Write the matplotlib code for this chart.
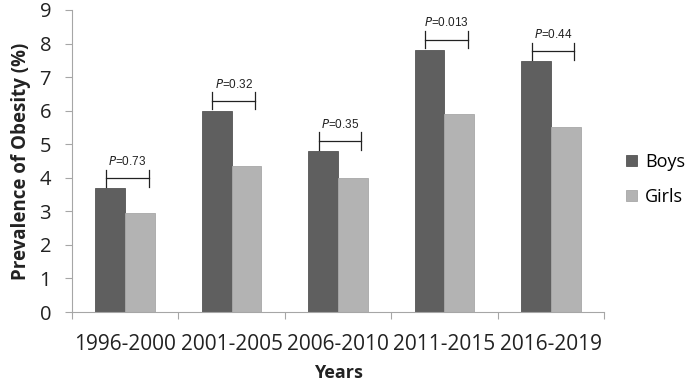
import matplotlib
matplotlib.use("Agg")
import matplotlib.pyplot as plt
import numpy as np
from matplotlib.ticker import FixedLocator, NullFormatter

categories = ["1996-2000", "2001-2005", "2006-2010", "2011-2015", "2016-2019"]
boys = [3.69, 6.0, 4.8, 7.82, 7.47]
girls = [2.95, 4.35, 4.0, 5.9, 5.52]
pvals = ["0.73", "0.32", "0.35", "0.013", "0.44"]

boys_color = "#5f5f5f"
girls_color = "#b3b3b3"
axis_color = "#a6a6a6"

plt.rcParams['font.family'] = ['Open Sans', 'DejaVu Sans']

fig = plt.figure(figsize=(6.85, 3.84), dpi=100)
ax = fig.add_axes([0.105, 0.1875, 0.777, 0.7865])

x = np.arange(len(categories)) + 0.5
w = 0.28
ax.bar(x - w / 2, boys, width=w, color=boys_color, edgecolor="#555555", linewidth=0.6, label="Boys")
ax.bar(x + w / 2, girls, width=w, color=girls_color, edgecolor="#a8a8a8", linewidth=0.6, label="Girls")

for xi, b, p in zip(x, boys, pvals):
    x0, x1 = xi - 0.18, xi + 0.22
    yh = b + 0.3
    ax.plot([x0, x1], [yh, yh], color="#222222", lw=0.9)
    ax.plot([x0, x0], [b + 0.04, b + 0.55], color="#222222", lw=0.9)
    ax.plot([x1, x1], [b + 0.04, b + 0.55], color="#222222", lw=0.9)
    ax.text((x0 + x1) / 2, b + 0.6, r"$P$=" + p, ha="center", va="bottom",
            fontsize=8.5, family="Liberation Sans", color="#222222")

ax.set_xlim(0, len(categories))
ax.set_ylim(0, 9)
ax.set_yticks(range(0, 10))
ax.tick_params(axis="y", labelsize=14.5, colors=axis_color, labelcolor="#222222", length=5, width=0.8, pad=10)
ax.xaxis.set_major_locator(FixedLocator(x))
ax.set_xticklabels(categories, fontsize=15, color="#222222")
ax.tick_params(axis="x", which="major", length=0, pad=16)
ax.xaxis.set_minor_locator(FixedLocator(np.arange(0, len(categories) + 1)))
ax.xaxis.set_minor_formatter(NullFormatter())
ax.tick_params(axis="x", which="minor", length=5, width=0.8, colors=axis_color)

for s in ["top", "right"]:
    ax.spines[s].set_visible(False)
for s in ["left", "bottom"]:
    ax.spines[s].set_color(axis_color)
    ax.spines[s].set_linewidth(0.8)

ax.set_ylabel("Prevalence of Obesity (%)", fontsize=13.5, fontweight="bold", color="#222222", labelpad=6)
ax.set_xlabel("Years", fontsize=13, fontweight="bold", color="#222222", labelpad=6)

leg = fig.legend(loc="center left", bbox_to_anchor=(626 / 685, 0.533), frameon=False,
                 fontsize=13, handlelength=0.6, handleheight=0.6, labelspacing=0.95,
                 handletextpad=0.45, borderpad=0, borderaxespad=0)

fig.savefig("out.png", dpi=100)
